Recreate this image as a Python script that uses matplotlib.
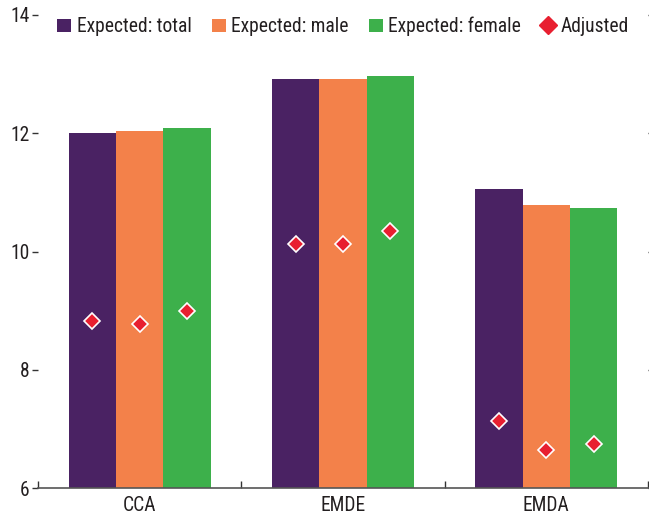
import matplotlib
matplotlib.use("Agg")
import matplotlib.pyplot as plt
from matplotlib import font_manager
from matplotlib.lines import Line2D
from matplotlib.patches import Patch
import numpy as np

categories = ["CCA", "EMDE", "EMDA"]
series_names = ["Expected: total", "Expected: male", "Expected: female"]
expected_total = [12.0, 12.92, 11.05]
expected_male = [12.04, 12.92, 10.79]
expected_female = [12.09, 12.97, 10.74]
adjusted_total = [8.82, 10.13, 7.13]
adjusted_male = [8.77, 10.13, 6.64]
adjusted_female = [8.99, 10.35, 6.75]
y_ticks = [6, 8, 10, 12, 14]

# pick the narrowest suitable installed font
available = {f.name for f in font_manager.fontManager.ttflist}
candidates = ['Liberation Sans Narrow', 'Roboto Condensed', 'Arial Narrow',
              'DejaVu Sans Condensed', 'Roboto', 'Liberation Sans']
fam = next((c for c in candidates if c in available), 'DejaVu Sans')
plt.rcParams['font.family'] = [fam, 'DejaVu Sans']

colors = ["#4A2263", "#F3814A", "#3DB04B"]
red = "#E81F30"
text_col = "#231F20"

fig = plt.figure(figsize=(6.49, 5.18), dpi=100)

# size text so that the legend label width matches the reference (~114 px)
renderer = fig.canvas.get_renderer()
probe = fig.text(0, 0, "Expected: total", fontsize=10)
wpx = probe.get_window_extent(renderer).width
probe.remove()
fs = min(14.5, 10.0 * 114.0 / wpx)

ax = fig.add_axes([38/649, 1-488/518, 610/649, (488-15)/518])

x = np.arange(len(categories))
w = 0.233
expected = [expected_total, expected_male, expected_female]
adjusted = [adjusted_total, adjusted_male, adjusted_female]
for i, (vals, adj) in enumerate(zip(expected, adjusted)):
    off = (i - 1) * w
    ax.bar(x + off, vals, width=w, color=colors[i], bottom=0, zorder=2)
    ax.plot(x + off, adj, linestyle='none', marker='D', markersize=8.5,
            markerfacecolor=red, markeredgecolor='white', markeredgewidth=1.2, zorder=3)

ax.set_xlim(-0.5, 2.5)
ax.set_ylim(6, 14)
ax.set_yticks(y_ticks)
ax.set_yticklabels([str(t) for t in y_ticks])
ax.set_xticks(x)
ax.set_xticklabels(categories)
ax.set_xticks([-0.5, 0.5, 1.5, 2.5], minor=True)

for s in ['top', 'left', 'right']:
    ax.spines[s].set_visible(False)
ax.spines['bottom'].set_color('#555555')
ax.spines['bottom'].set_linewidth(1.2)

ax.tick_params(axis='x', which='major', length=0, pad=6, labelsize=fs, labelcolor=text_col)
ax.tick_params(axis='x', which='minor', direction='in', length=5, width=1, color='#333333')
ax.tick_params(axis='y', which='major', direction='out', length=4, width=1, color='#333333',
               pad=2, labelsize=fs, labelcolor=text_col, right=True)

handles = [Patch(facecolor=c, edgecolor='none') for c in colors]
handles.append(Line2D([], [], linestyle='none', marker='D', markersize=9,
                      markerfacecolor=red, markeredgecolor=red))
labels = series_names + ["Adjusted"]
hl = 10.0 / fs
leg = ax.legend(handles, labels, loc='center', bbox_to_anchor=(0.5, (488-26.5)/473), ncol=4,
                frameon=False, fontsize=fs, handlelength=hl, handleheight=hl,
                handletextpad=4.0 / fs, columnspacing=14.5 / fs, borderaxespad=0,
                borderpad=0)
for t in leg.get_texts():
    t.set_color(text_col)

fig.savefig("out.png", dpi=100)
